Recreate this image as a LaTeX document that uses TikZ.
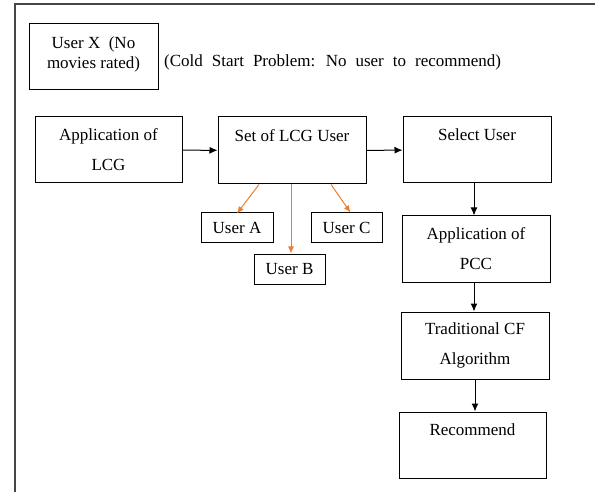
\documentclass[tikz,border=0pt]{standalone}
\usepackage{fontspec}
\setmainfont{Liberation Serif}
\usetikzlibrary{arrows.meta}
\definecolor{frameline}{RGB}{70,70,70}
\definecolor{linkorange}{RGB}{237,125,49}
\tikzset{
  stagebox/.style={draw, line width=1pt, minimum width=148pt, minimum height=66pt,
    align=center, font=\fontsize{17}{30}\selectfont},
  userbox/.style={draw, line width=1pt, minimum width=71pt, minimum height=30pt,
    font=\fontsize{17}{20}\selectfont},
  flow/.style={-{Latex[length=8pt,width=7pt]}, line width=1pt},
  pick/.style={-{Latex[length=7pt,width=6pt]}, linkorange, line width=1pt}
}
\begin{document}
\begin{tikzpicture}[x=1pt,y=-1pt]
        \useasboundingbox (0,0) rectangle (595,492);
        \draw[frameline, line width=1.3pt] (15,492) -- (15,4) -- (595,4);

        % cold start case
        \node[draw, line width=1pt, minimum width=129pt, minimum height=66pt, align=center,
              font=\fontsize{17}{20}\selectfont] (userx) at (93.5,57) {User X\ \ (No\\movies rated)\\[-12pt]~};
        \node[anchor=west, font=\fontsize{17}{20}\selectfont, inner sep=0pt] (coldstart) at (164,62)
              {\spaceskip=9pt (Cold Start Problem: No user to recommend)};

        % top row
        \node[stagebox, minimum width=147pt] (lcg) at (108.5,150) {Application of\\LCG};
        \node[stagebox, minimum height=67pt] (lcgset) at (292,150.5) {Set of LCG User\\ ~};
        \node[stagebox] (select) at (477,150) {Select User\\ ~};

        \draw[flow] (lcg) -- (lcgset);
        \draw[flow] (lcgset) -- (select);

        % users out of the LCG set
        \node[userbox, minimum width=72pt] (usera) at (237,228) {User A};
        \node[userbox] (userc) at (346.5,228) {User C};
        \node[userbox] (userb) at (289.5,269) {User B};

        \draw[pick] ([xshift=-33pt]lcgset.south) -- ([yshift=-1pt]usera.north);
        \draw[pick] ([xshift=39pt]lcgset.south) -- ([xshift=4pt]userc.north);
        \draw[pick] ([xshift=-1pt]lcgset.south) -- ([xshift=-1pt]lcgset.south |- userb.north);

        % right column
        \node[stagebox] (pcc) at (476,249) {Application of\\PCC};
        \node[stagebox, minimum height=67pt] (cf) at (475,345.5) {Traditional CF\\Algorithm};
        \node[stagebox, minimum width=147pt] (recommend) at (472.5,445) {Recommend\\ ~};

        \draw[flow] ([xshift=-3pt]select.south) -- ([xshift=-3pt]select.south |- pcc.north);
        \draw[flow] ([xshift=-2pt]pcc.south) -- ([xshift=-2pt]pcc.south |- cf.north);
        \draw[flow] (cf.south) -- (cf.south |- recommend.north);
\end{tikzpicture}
\end{document}
